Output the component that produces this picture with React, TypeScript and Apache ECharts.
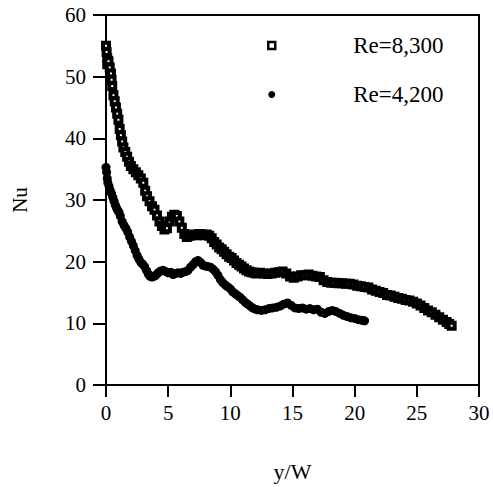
import React, { useEffect, useRef } from "react";
import * as echarts from "echarts";

const xTicks = [0, 5, 10, 15, 20, 25, 30];
const yTicks = [0, 10, 20, 30, 40, 50, 60];

const re8300X = [0, 0.05, 0.1, 0.1, 0.2, 0.3, 0.4, 0.45, 0.5, 0.6, 0.7, 0.8, 0.9, 1.0, 1.1, 1.2, 1.3, 1.4, 1.55, 1.7, 1.85, 2.0, 2.2, 2.4, 2.6, 2.8, 3.0, 3.15, 3.3, 3.5, 3.7, 3.9, 4.1, 4.3, 4.5, 4.7, 4.9, 5.1, 5.3, 5.5, 5.7, 5.9, 6.1, 6.3, 6.5, 6.7, 6.9, 7.1, 7.3, 7.5, 7.7, 7.9, 8.1, 8.3, 8.5, 8.7, 8.9, 9.1, 9.3, 9.5, 9.7, 9.9, 10.1, 10.3, 10.5, 10.7, 10.9, 11.1, 11.3, 11.5, 11.7, 11.9, 12.1, 12.4, 12.7, 13.0, 13.3, 13.6, 13.9, 14.2, 14.5, 14.8, 15.1, 15.4, 15.7, 16.0, 16.3, 16.6, 16.9, 17.2, 17.5, 17.8, 18.1, 18.4, 18.7, 19.0, 19.3, 19.6, 19.9, 20.2, 20.5, 20.8, 21.1, 21.4, 21.7, 22.0, 22.3, 22.6, 22.9, 23.2, 23.5, 23.8, 24.1, 24.4, 24.7, 25.0, 25.3, 25.6, 25.9, 26.2, 26.5, 26.8, 27.1, 27.4, 27.6, 27.8];
const re8300Y = [55, 54, 53, 52, 52.5, 51.5, 50.5, 49.5, 48.5, 47, 46, 45, 44, 43, 41.5, 40.5, 39.5, 38.5, 37.8, 37, 36.2, 35.5, 35, 34.5, 34, 33.5, 32.8, 31.5, 30.6, 29.8, 29, 28.4, 27.5, 26.5, 25.8, 25.2, 25.4, 26.5, 27.3, 27.6, 27.4, 26.5, 25.5, 24.5, 24, 24.2, 24.3, 24.4, 24.3, 24.5, 24.4, 24.3, 24.4, 24.2, 23.8, 23.2, 22.8, 22.3, 22, 21.6, 21.2, 20.8, 20.6, 20.2, 19.8, 19.5, 19.2, 18.9, 18.6, 18.4, 18.3, 18.2, 18.1, 18.2, 18.1, 18.0, 18.1, 18.2, 18.3, 18.4, 18.1, 17.6, 17.4, 17.6, 17.8, 17.8, 17.9, 17.7, 17.6, 17.5, 17.0, 16.7, 16.6, 16.6, 16.5, 16.5, 16.4, 16.4, 16.3, 16.1, 16.0, 15.9, 15.8, 15.5, 15.3, 15.1, 14.9, 14.6, 14.5, 14.3, 14.1, 14.0, 13.8, 13.7, 13.5, 13.2, 12.9, 12.5, 12.1, 11.8, 11.4, 11.0, 10.6, 10.2, 9.9, 9.6];

const re4200X = [0, 0.05, 0.1, 0.15, 0.25, 0.35, 0.45, 0.55, 0.65, 0.75, 0.85, 0.95, 1.05, 1.15, 1.3, 1.45, 1.6, 1.75, 1.9, 2.05, 2.2, 2.35, 2.5, 2.65, 2.8, 2.95, 3.1, 3.25, 3.4, 3.55, 3.7, 3.85, 4.0, 4.2, 4.4, 4.6, 4.8, 5.0, 5.2, 5.4, 5.6, 5.8, 6.0, 6.2, 6.4, 6.6, 6.8, 7.0, 7.2, 7.4, 7.6, 7.8, 8.0, 8.2, 8.4, 8.6, 8.8, 9.0, 9.2, 9.4, 9.6, 9.8, 10.0, 10.2, 10.4, 10.6, 10.8, 11.0, 11.2, 11.4, 11.6, 11.8, 12.0, 12.2, 12.5, 12.8, 13.1, 13.4, 13.7, 14.0, 14.3, 14.6, 14.9, 15.2, 15.5, 15.8, 16.1, 16.4, 16.7, 17.0, 17.3, 17.6, 17.9, 18.2, 18.5, 18.8, 19.1, 19.4, 19.7, 20.0, 20.3, 20.6, 20.8];
const re4200Y = [35.3, 34.5, 33.5, 32.8, 32.2, 31.5, 31, 30.4, 29.8, 29.2, 28.7, 28.3, 28, 27.4, 26.5, 25.9, 25.4, 24.8, 24, 23.3, 22.6, 21.8, 21, 20.4, 19.9, 19.6, 19.2, 18.6, 18, 17.6, 17.5, 17.6, 17.8, 18.2, 18.5, 18.6, 18.4, 18.2, 18.3, 17.9, 18.1, 18.2, 18.1, 18.3, 18.4, 18.6, 19.1, 19.5, 20.0, 20.2, 19.9, 19.4, 19.3, 19.2, 19.1, 18.8, 18.4, 17.8, 17.1, 16.6, 16.2, 15.9, 15.6, 15.1, 14.8, 14.5, 14.2, 13.8, 13.4, 13.1, 12.8, 12.5, 12.3, 12.2, 12.1, 12.2, 12.4, 12.5, 12.6, 12.8, 13.1, 13.3, 12.9, 12.5, 12.4, 12.5, 12.3, 12.4, 12.2, 12.3, 11.8, 11.6, 11.9, 12.1, 11.9, 11.6, 11.3, 11.1, 10.9, 10.8, 10.6, 10.5, 10.4];

const seriesNames = ["Re=8,300", "Re=4,200"];
const FONT = "'Liberation Serif', 'Times New Roman', serif";

export default function App() {
  const ref = useRef<HTMLDivElement>(null);
  useEffect(() => {
    if (!ref.current) return;
    const chart = echarts.init(ref.current, null, { renderer: "svg" });
    const d1 = re8300X.map((x, i) => [x, re8300Y[i]]);
    const d2 = re4200X.map((x, i) => [x, re4200Y[i]]);
    chart.setOption({
      animation: false,
      backgroundColor: "#fff",
      grid: {
        left: 106,
        top: 15,
        right: 14,
        bottom: 100,
        show: true,
        borderColor: "#000",
        borderWidth: 2,
      },
      legend: {
        orient: "vertical",
        left: 262,
        top: 29,
        itemGap: 26,
        itemWidth: 7,
        itemHeight: 7,
        data: [
          { name: seriesNames[0], icon: "rect", itemStyle: { color: "#fff", borderColor: "#000", borderWidth: 2.5 } },
          { name: seriesNames[1], icon: "circle", itemStyle: { color: "#000", borderWidth: 0 } },
        ],
        textStyle: {
          fontFamily: FONT,
          fontSize: 23,
          color: "#000",
          padding: [0, 0, 0, 73],
        },
      },
      xAxis: {
        type: "value",
        min: xTicks[0],
        max: xTicks[xTicks.length - 1],
        interval: 5,
        name: "y/W",
        nameLocation: "middle",
        nameGap: 75,
        nameTextStyle: { fontFamily: FONT, fontSize: 22, color: "#000" },
        axisLine: { lineStyle: { color: "#000", width: 2 } },
        axisTick: { inside: false, length: 12, lineStyle: { color: "#000", width: 2 } },
        axisLabel: { fontFamily: FONT, fontSize: 21, color: "#000", margin: 17 },
        splitLine: { show: false },
      },
      yAxis: {
        type: "value",
        min: yTicks[0],
        max: yTicks[yTicks.length - 1],
        interval: 10,
        name: "Nu",
        nameLocation: "middle",
        nameGap: 76,
        nameRotate: 90,
        nameTextStyle: { fontFamily: FONT, fontSize: 21, color: "#000" },
        axisLine: { lineStyle: { color: "#000", width: 2 } },
        axisTick: { inside: false, length: 13, lineStyle: { color: "#000", width: 2 } },
        axisLabel: { fontFamily: FONT, fontSize: 21, color: "#000", margin: 20 },
        splitLine: { show: false },
      },
      series: [
        {
          name: seriesNames[0],
          type: "scatter",
          data: d1,
          symbol: "rect",
          symbolSize: 6,
          itemStyle: { color: "#fff", borderColor: "#000", borderWidth: 4, opacity: 1 },
        },
        {
          name: seriesNames[1],
          type: "scatter",
          data: d2,
          symbol: "circle",
          symbolSize: 9,
          itemStyle: { color: "#000", opacity: 1 },
        },
      ],
    });
    return () => chart.dispose();
  }, []);
  return (
    <div
      ref={ref}
      style={{ position: "fixed", left: 0, top: 0, width: 493, height: 487, background: "#fff" }}
    />
  );
}
